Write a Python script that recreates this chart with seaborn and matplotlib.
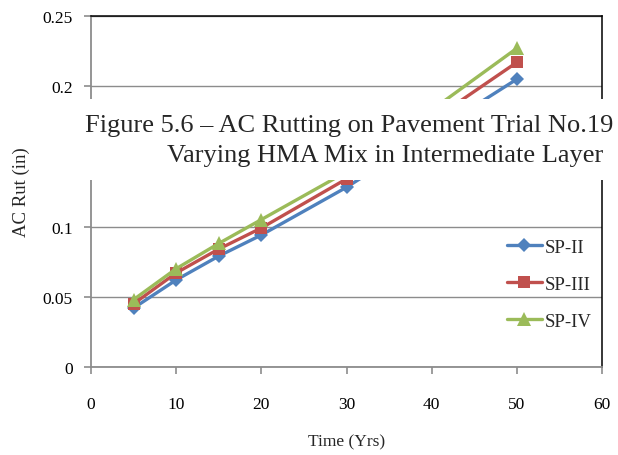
import matplotlib
matplotlib.use("Agg")
import matplotlib.pyplot as plt
from matplotlib.patches import Rectangle
import seaborn as sns
import pandas as pd

# Rut depth over time for each HMA mix
years = [5, 10, 15, 20, 30, 50]
sp_ii = [0.042, 0.062, 0.079, 0.094, 0.128, 0.205]
sp_iii = [0.045, 0.067, 0.084, 0.099, 0.134, 0.217]
sp_iv = [0.048, 0.070, 0.088, 0.105, 0.139, 0.227]
mixes = ["SP-II", "SP-III", "SP-IV"]

x_ticks = [0, 10, 20, 30, 40, 50, 60]
y_ticks = [0, 0.05, 0.1, 0.15, 0.2, 0.25]
y_tick_labels = ["0", "0.05", "0.1", "0.15", "0.2", "0.25"]

title_line1 = "Figure 5.6 \u2013 AC Rutting on Pavement Trial No.19"
title_line2 = "Varying HMA Mix in Intermediate Layer"

df = pd.DataFrame({
    "Time": years * 3,
    "Rut": sp_ii + sp_iii + sp_iv,
    "Mix": [m for m in mixes for _ in years],
})

sns.set_theme(style="white")
plt.rcParams["font.family"] = ["Liberation Serif", "DejaVu Serif"]

palette = {"SP-II": "#4F81BD", "SP-III": "#C0504D", "SP-IV": "#9BBB59"}
markers = {"SP-II": "D", "SP-III": "s", "SP-IV": "^"}
msizes = {"SP-II": 7.5, "SP-III": 8.5, "SP-IV": 10}

fig = plt.figure(figsize=(6.18, 4.56), dpi=100)
ax = fig.add_axes([91 / 618, 1 - 368 / 456, 511 / 618, 351 / 456])

for m in mixes:
    sub = df[df["Mix"] == m]
    sns.lineplot(data=sub, x="Time", y="Rut", ax=ax, color=palette[m],
                 marker=markers[m], markersize=msizes[m], markeredgewidth=0,
                 linewidth=2.4, label=m, zorder=3)

ax.set_xlim(0, 60)
ax.set_ylim(0, 0.25)
ax.set_xticks(x_ticks)
ax.set_yticks(y_ticks)
ax.set_yticklabels(y_tick_labels)
ax.grid(axis="y", color="#8c8c8c", linewidth=1.0)
ax.grid(axis="x", visible=False)

for side in ["left", "bottom"]:
    ax.spines[side].set_color("#8c8c8c")
    ax.spines[side].set_linewidth(1.3)
for side in ["top", "right"]:
    ax.spines[side].set_color("black")
    ax.spines[side].set_linewidth(1.1)

ax.tick_params(axis="x", direction="out", length=5, width=1.2, color="#8c8c8c",
               pad=16, labelsize=12.5, labelcolor="black", bottom=True)
ax.tick_params(axis="y", direction="out", length=5, width=1.2, color="#8c8c8c",
               pad=8, labelsize=12.5, labelcolor="black", left=True)

ax.set_xlabel("Time (Yrs)", fontsize=12.5)
ax.set_ylabel("AC Rut (in)", fontsize=13.5)
ax.xaxis.set_label_coords(0.5, -0.19)
ax.yaxis.set_label_coords(-0.119, 0.5)

ax.legend(loc="center left", bbox_to_anchor=(0.814, 0.236), frameon=False,
          fontsize=13.5, handlelength=1.85, handletextpad=0.15,
          labelspacing=1.07, borderpad=0, borderaxespad=0)

# Chart title drawn on a white panel overlapping the plot area
fig.add_artist(Rectangle((38 / 618, 1 - 181 / 456), 1 - 38 / 618, 81 / 456,
                         transform=fig.transFigure, facecolor="white",
                         edgecolor="none", zorder=10))
fig.text(85 / 618, 1 - 126 / 456, title_line1, ha="left", va="center",
         fontsize=19, zorder=11)
fig.text(385 / 618, 1 - 156 / 456, title_line2, ha="center", va="center",
         fontsize=19, zorder=11)

fig.savefig("out.png", dpi=100)
